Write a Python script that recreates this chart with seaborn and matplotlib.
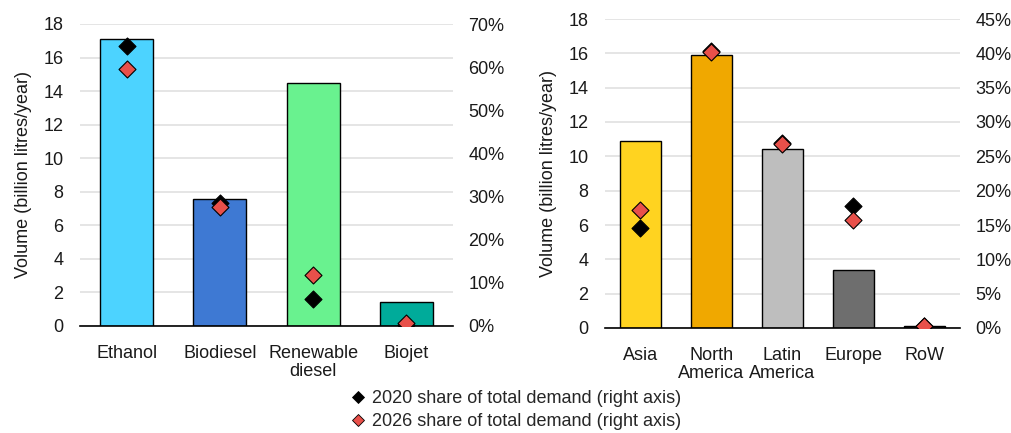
import numpy as np
import matplotlib
matplotlib.use('Agg')
import matplotlib.pyplot as plt
from matplotlib.lines import Line2D
from matplotlib.ticker import PercentFormatter, FixedLocator
import seaborn as sns

# datos - panel izquierdo (por biocombustible)
fuels = ['Ethanol', 'Biodiesel', 'Renewable\ndiesel', 'Biojet']
fuel_volume = [17.1, 7.55, 14.5, 1.45]
fuel_share_2020 = [65.0, 28.4, 6.3, 0.2]
fuel_share_2026 = [59.6, 27.5, 11.8, 0.8]
fuel_colors = ['#4CD3FF', '#3E79D3', '#69F28F', '#00AB9A']

# datos - panel derecho (por region)
regions = ['Asia', 'North\nAmerica', 'Latin\nAmerica', 'Europe', 'RoW']
region_volume = [10.9, 15.9, 10.4, 3.35, 0.1]
region_share_2020 = [14.5, 40.4, 27.0, 17.7, 0.3]
region_share_2026 = [17.2, 40.2, 26.8, 15.7, 0.3]
region_colors = ['#FFD320', '#F0A800', '#BEBEBE', '#6E6E6E', '#333333']

sns.set_theme(style='white')
plt.rcParams['font.family'] = ['Liberation Sans', 'DejaVu Sans']
plt.rcParams['font.size'] = 13

FS = 13
TXT = '#1a1a1a'

fig = plt.figure(figsize=(10.11, 4.33), dpi=100)
ax_l = fig.add_axes([80 / 1011, 1 - 326 / 433, 373 / 1011, 302 / 433])
ax_r = fig.add_axes([605 / 1011, 1 - 328 / 433, 355 / 1011, 309 / 433])


def panel(ax, cats, vols, s20, s26, colors, pmax, pstep):
    sns.barplot(x=cats, y=vols, hue=cats, palette=colors, ax=ax,
                edgecolor='black', linewidth=1, width=0.57, legend=False,
                saturation=1, zorder=2)
    n = len(cats)
    ax.set_xlim(-0.5, n - 0.5)
    ax.set_ylim(0, 18)
    ax.set_yticks(np.arange(0, 19, 2))
    ax.yaxis.grid(True, color='#E0E0E0', linewidth=1.2, zorder=0)
    ax.set_axisbelow(True)
    for s in ['top', 'right', 'left']:
        ax.spines[s].set_visible(False)
    ax.spines['bottom'].set_color('black')
    ax.spines['bottom'].set_linewidth(1.2)
    ax.set_ylabel('Volume (billion litres/year)', fontsize=FS, color=TXT,
                  labelpad=8)
    ax.set_xlabel('')
    ax.tick_params(axis='y', length=0, labelsize=FS, colors=TXT, pad=12)
    ax.tick_params(axis='x', which='major', length=0, labelsize=FS,
                   colors=TXT, pad=14)
    ax.xaxis.set_minor_locator(FixedLocator(np.arange(-0.5, n, 1)))
    ax.tick_params(axis='x', which='minor', length=6, width=1.2,
                   direction='out', color='black')
    for lab in ax.get_xticklabels():
        lab.set_linespacing(1.05)

    ax2 = ax.twinx()
    x = np.arange(n)
    ax2.scatter(x, s20, marker='D', s=75, color='black',
                edgecolor='black', linewidth=0.8, zorder=3)
    ax2.scatter(x, s26, marker='D', s=75, color='#E8504A',
                edgecolor='black', linewidth=0.8, zorder=4)
    ax2.set_ylim(0, pmax)
    ax2.set_yticks(np.arange(0, pmax + 0.1, pstep))
    ax2.yaxis.set_major_formatter(PercentFormatter(decimals=0))
    ax2.tick_params(axis='y', length=0, labelsize=FS, colors=TXT, pad=11)
    for s in ax2.spines.values():
        s.set_visible(False)
    ax2.grid(False)
    return ax2


panel(ax_l, fuels, fuel_volume, fuel_share_2020, fuel_share_2026,
      fuel_colors, 70, 10)
panel(ax_r, regions, region_volume, region_share_2020, region_share_2026,
      region_colors, 45, 5)

handles = [
    Line2D([], [], marker='D', linestyle='none', markersize=6,
           markerfacecolor='black', markeredgecolor='black', markeredgewidth=0.6),
    Line2D([], [], marker='D', linestyle='none', markersize=6,
           markerfacecolor='#E8504A', markeredgecolor='black', markeredgewidth=0.6),
]
fig.legend(handles, ['2020 share of total demand (right axis)',
                     '2026 share of total demand (right axis)'],
           loc='center', bbox_to_anchor=(515 / 1011, 1 - 410 / 433),
           ncol=1, frameon=False, fontsize=FS, handletextpad=0.3,
           labelspacing=0.35, handlelength=1.0, borderpad=0)

fig.savefig('out.png', dpi=100)
